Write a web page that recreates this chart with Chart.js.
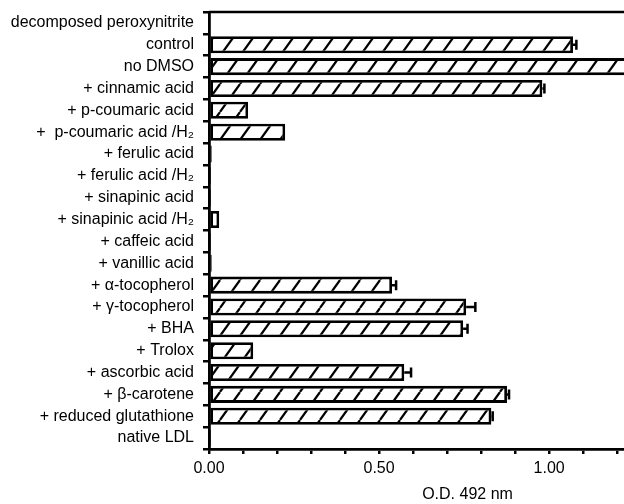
<!DOCTYPE html>
<html>
<head>
<meta charset="utf-8">
<script src="https://cdn.jsdelivr.net/npm/chart.js@4"></script>
<style>
  body { margin: 0; background: #fff; }
  #wrap { width: 624px; height: 504px; }
</style>
</head>
<body>
<div id="wrap"><canvas id="bar-plot" width="624" height="504"></canvas></div>
<script>
// data
const categories = [
    'decomposed peroxynitrite', 'control', 'no DMSO', '+ cinnamic acid',
    '+ p-coumaric acid', '+  p-coumaric acid /H₂', '+ ferulic acid', '+ ferulic acid /H₂',
    '+ sinapinic acid', '+ sinapinic acid /H₂', '+ caffeic acid', '+ vanillic acid',
    '+ α-tocopherol', '+ γ-tocopherol', '+ BHA', '+ Trolox', '+ ascorbic acid',
    '+ β-carotene', '+ reduced glutathione', 'native LDL'
];
const odValues = [null, 1.07, 1.25, 0.98, 0.115, 0.224, 0.008, 0.006, 0.006, 0.03, 0.006, 0.008,
    0.538, 0.756, 0.747, 0.13, 0.574, 0.876, 0.83, 0.006];
const odErrors = [0, 0.01, 0, 0.006, 0, 0, 0, 0, 0, 0, 0, 0,
    0.012, 0.027, 0.013, 0, 0.02, 0.006, 0.004, 0];
const majorTicks = [0, 0.5, 1.0];

const FONT = '"Liberation Sans", Arial, Helvetica, sans-serif';

function makeHatch() {
    let c = document.createElement('canvas');
    c.width = 20;
    c.height = 28;
    let g = c.getContext('2d');
    g.fillStyle = '#fff';
    g.fillRect(0, 0, 20, 28);
    g.strokeStyle = '#000';
    g.lineWidth = 2.2;
    for (const x of [-20, 0, 20]) {
        g.beginPath();
        g.moveTo(x, 28);
        g.lineTo(x + 20, 0);
        g.stroke();
    }
    return g.createPattern(c, 'repeat');
}

const errorBars = {
    id: 'errorBars',
    afterDatasetsDraw(chart) {
        let ctx = chart.ctx;
        let xs = chart.scales.x;
        let meta = chart.getDatasetMeta(0);
        ctx.save();
        ctx.strokeStyle = '#000';
        ctx.lineWidth = 2.5;
        meta.data.forEach((bar, i) => {
            if (!odErrors[i] || odValues[i] == null) return;
            let x0 = xs.getPixelForValue(odValues[i]);
            let x1 = xs.getPixelForValue(odValues[i] + odErrors[i]);
            ctx.beginPath();
            ctx.moveTo(x0, bar.y);
            ctx.lineTo(x1, bar.y);
            ctx.moveTo(x1, bar.y - 5);
            ctx.lineTo(x1, bar.y + 5);
            ctx.stroke();
        });
        ctx.restore();
    }
};

const frame = {
    id: 'frame',
    afterDraw(chart) {
        let ctx = chart.ctx;
        let a = chart.chartArea;
        ctx.save();
        ctx.strokeStyle = '#000';
        ctx.lineWidth = 2.5;
        ctx.beginPath();
        ctx.moveTo(a.left, a.top);
        ctx.lineTo(a.right, a.top);
        ctx.stroke();
        // axis title
        ctx.fillStyle = '#000';
        ctx.font = '16px ' + FONT;
        ctx.textAlign = 'center';
        ctx.textBaseline = 'middle';
        ctx.fillText('O.D. 492 nm', chart.scales.x.getPixelForValue(0.76), 495);
        ctx.restore();
    }
};

let chart = new Chart(document.getElementById('bar-plot').getContext('2d'), {
    type: 'bar',
    data: {
        labels: categories,
        datasets: [{
            label: 'O.D. 492 nm',
            data: odValues,
            backgroundColor: makeHatch(),
            borderColor: '#000',
            borderWidth: 2.8,
            borderSkipped: false,
            barPercentage: 0.78,
            categoryPercentage: 1.0
        }]
    },
    options: {
        indexAxis: 'y',
        responsive: false,
        animation: false,
        layout: { padding: { left: 8, top: 12, right: 0, bottom: 0 } },
        plugins: {
            legend: { display: false },
            tooltip: { enabled: false }
        },
        scales: {
            x: {
                min: 0,
                max: 1.22,
                afterFit(s) { s.height = 55; },
                afterBuildTicks(s) {
                    let t = [];
                    for (let i = 0; i <= 12; i++) t.push({ value: i / 10 });
                    s.ticks = t;
                },
                border: { color: '#000', width: 2.8 },
                grid: { drawOnChartArea: false, drawTicks: true, tickLength: 5, color: '#000', lineWidth: 2.5 },
                ticks: {
                    color: '#000',
                    autoSkip: false,
                    maxRotation: 0,
                    padding: 5,
                    font: { family: FONT, size: 16 },
                    callback(v) {
                        let hit = majorTicks.find(m => Math.abs(m - v) < 1e-6);
                        return hit === undefined ? '' : hit.toFixed(2);
                    }
                }
            },
            y: {
                afterFit(s) {
                    s.width = 201;
                    s.paddingTop = 0;
                    s.paddingBottom = 0;
                },
                border: { color: '#000', width: 2.8 },
                grid: { drawOnChartArea: false, drawTicks: true, tickLength: 6, color: '#000', lineWidth: 2.5 },
                ticks: {
                    color: '#000',
                    autoSkip: false,
                    padding: 9,
                    font: { family: FONT, size: 16 }
                }
            }
        }
    },
    plugins: [errorBars, frame]
});
</script>
</body>
</html>
